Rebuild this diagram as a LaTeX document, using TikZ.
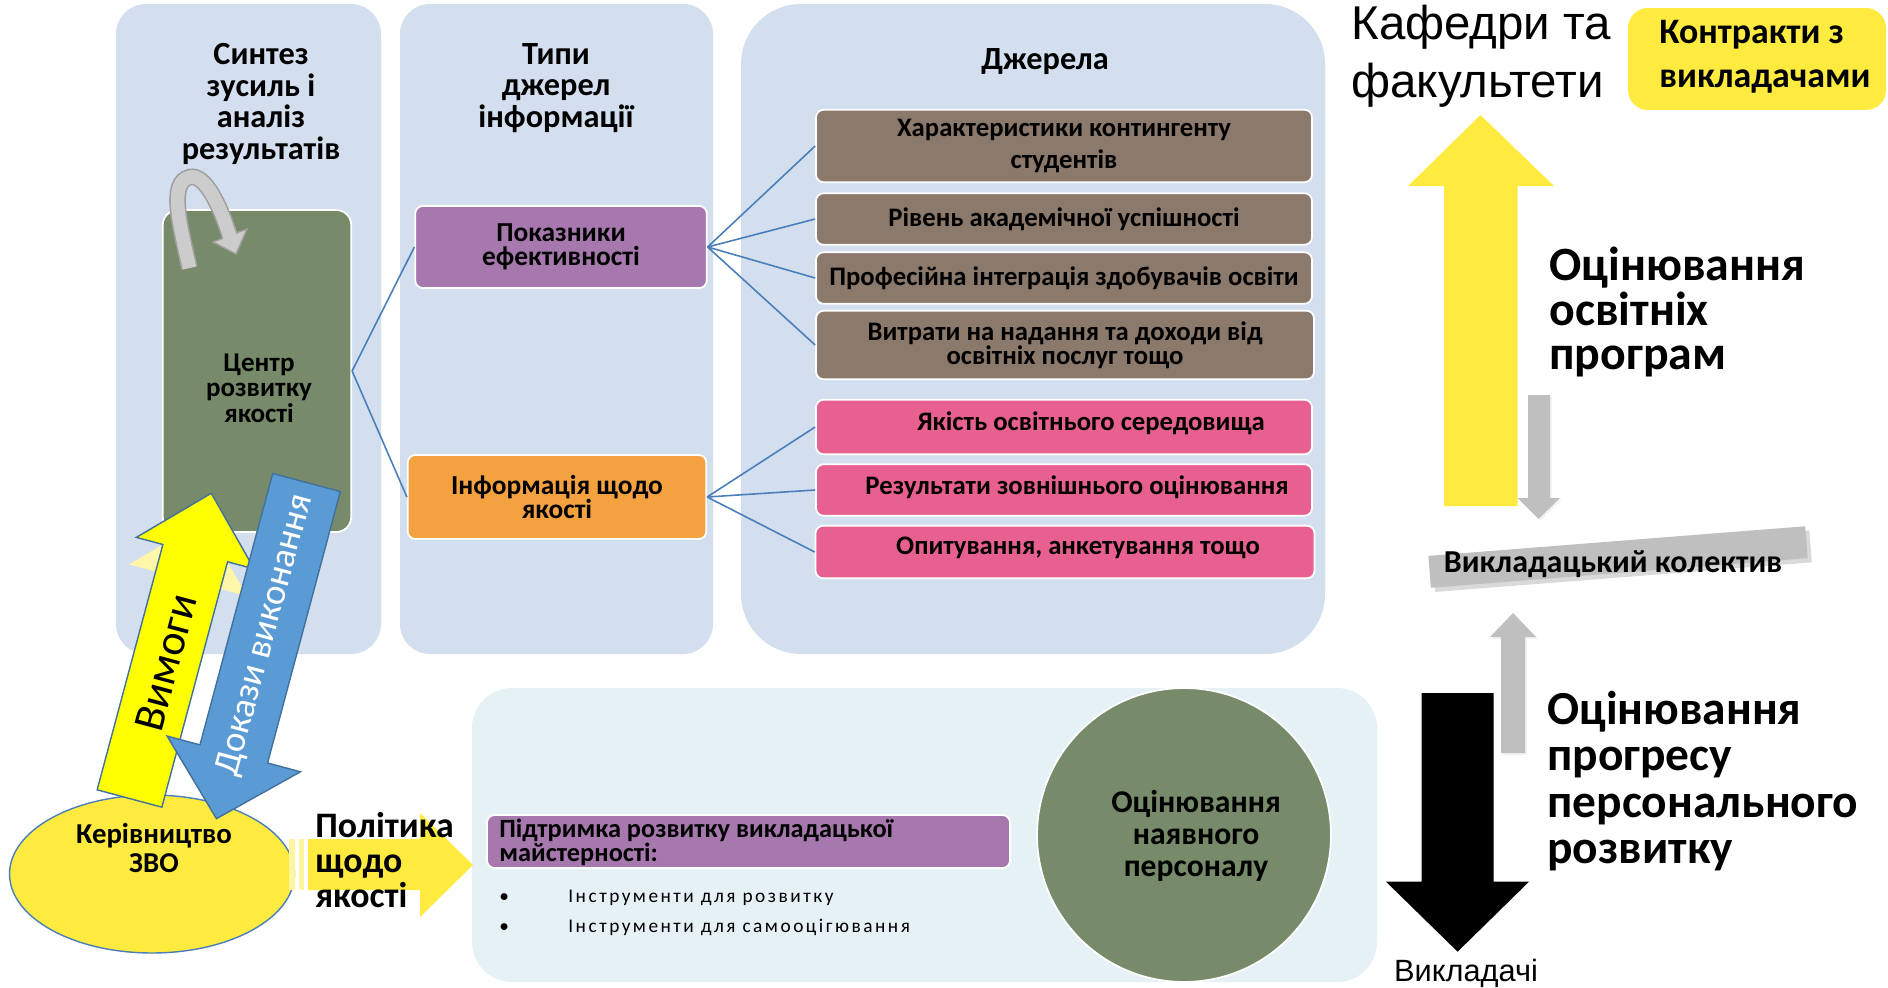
\documentclass[tikz,border=0pt]{standalone}
\usepackage{fontspec}
\setmainfont{Carlito}
\newfontfamily\arialfont{Liberation Sans}
\usetikzlibrary{positioning}
\usetikzlibrary{shapes.geometric}
\usetikzlibrary{shadows}
\definecolor{panelblue}{RGB}{211,223,239}
\definecolor{panelcyan}{RGB}{229,241,244}
\definecolor{olive}{RGB}{119,139,106}
\definecolor{violet}{RGB}{166,120,174}
\definecolor{orangebox}{RGB}{244,161,64}
\definecolor{brownbox}{RGB}{139,121,107}
\definecolor{pinkbox}{RGB}{232,96,143}
\definecolor{yel}{RGB}{255,235,64}
\definecolor{purey}{RGB}{255,255,0}
\definecolor{bluear}{RGB}{91,155,213}
\definecolor{blueedge}{RGB}{65,113,156}
\definecolor{linkblue}{RGB}{74,126,187}
\definecolor{greyar}{RGB}{191,191,191}
\tikzset{hdr/.style = {font = \bfseries\fontsize{18.4}{18}\selectfont, align = center}}
\tikzset{box/.style = {draw = white, line width = 1pt, rounded corners = 0.15cm, align = center,
                      font = \bfseries\fontsize{15.6}{13.8}\selectfont}}
\tikzset{srcbox/.style = {box, minimum width = 9.92cm, minimum height = 1.03cm,
                         font = \bfseries\fontsize{15.2}{13.8}\selectfont}}
\tikzset{celltxt/.style = {font = \bfseries\fontsize{15.2}{13.8}\selectfont}}
\tikzset{link/.style = {draw = linkblue, line width = 0.9pt}}
\tikzset{bigtxt/.style = {font = \bfseries\fontsize{27.2}{25.5}\selectfont, align = left, inner sep = 0, anchor = west}}
\tikzset{tool/.style = {font = \fontsize{11}{12}\selectfont\addfontfeature{LetterSpace=13}, inner sep = 0, anchor = base west}}

\begin{document}
\begin{tikzpicture}[x=0.02cm, y=-0.02cm]
      \useasboundingbox (0,0) rectangle (1888,987);

      % panels
      \fill[panelblue, rounded corners=0.6cm] (116,4) rectangle (381,654);
      \fill[panelblue, rounded corners=0.6cm] (400,4) rectangle (713,654);
      \fill[panelblue, rounded corners=1.2cm] (741,4) rectangle (1325,654);
      \fill[panelcyan, rounded corners=0.8cm] (472,688) rectangle (1377,982);

      \node[hdr] (synth) at (261,104) {Синтез\\зусиль і\\аналіз\\результатів};
      \node[hdr] (types) at (556,88) {Типи\\джерел\\інформації};
      \node[hdr] (srcs) at (1045,62) {Джерела};

      % centre
      \node[box, fill=olive, rounded corners=0.3cm, minimum width=3.77cm, minimum height=6.44cm] (centre) at (257,371) {};
      \node[font=\bfseries\fontsize{15.4}{14.5}\selectfont, align=center] (centretxt) at (259,388) {Центр\\розвитку\\якості};

      \draw[line width=9.5pt, gray!75] (189.5,268) .. controls (180,225) and (168,182) .. (190,177) .. controls (205,174) and (220,205) .. (230,237);
      \filldraw[fill=gray!40, draw=gray!75, line width=0.8pt] (213,242) -- (247,229) -- (236,254) -- cycle;
      \draw[line width=7.7pt, gray!40] (189.5,268) .. controls (180,225) and (168,182) .. (190,177) .. controls (205,174) and (220,205) .. (230,237);

      % types of sources
      \node[box, fill=violet, minimum width=5.83cm, minimum height=1.64cm] (kpi) at (561,247) {Показники\\ефективності};
      \node[box, fill=orangebox, minimum width=5.97cm, minimum height=1.68cm] (qinfo) at (557,497) {Інформація щодо\\якості};

      \node[srcbox, fill=brownbox, minimum height=1.45cm] (chars) at (1064,146) {Характеристики контингенту\\[4pt]студентів};
      \node[srcbox, fill=brownbox] (perf) at (1064,219) {Рівень академічної успішності};
      \node[srcbox, fill=brownbox] (integ) at (1064,278) {Професійна інтеграція здобувачів освіти};
      \node[srcbox, fill=brownbox, minimum width=9.96cm, minimum height=1.37cm] (costs) at (1065,345) {Витрати на надання та доходи від\\освітніх послуг тощо};
      \node[srcbox, fill=pinkbox, minimum height=1.09cm] (envq) at (1064,427) {};
      \node[celltxt] (envqtxt) at ([xshift=0.54cm, yshift=0.08cm]envq.center) {Якість освітнього середовища};
      \node[srcbox, fill=pinkbox] (extev) at (1064,490) {};
      \node[celltxt] (extevtxt) at ([xshift=0.26cm, yshift=0.06cm]extev.center) {Результати зовнішнього оцінювання};
      \node[srcbox, fill=pinkbox, minimum width=9.98cm, minimum height=1.05cm] (surv) at (1065,552) {};
      \node[celltxt] (survtxt) at ([xshift=0.26cm, yshift=0.08cm]surv.center) {Опитування, анкетування тощо};

      \draw[link] (centre.east) -- (kpi.west);
      \draw[link] (centre.east) -- (qinfo.west);
      \foreach \b in {chars, perf, integ, costs}
        \draw[link] (kpi.east) -- (\b.west);
      \foreach \b in {envq, extev, surv}
        \draw[link] (qinfo.east) -- (\b.west);

      % management
      \node[ellipse, draw=linkblue, fill=yel, line width=0.8pt, minimum width=5.7cm, minimum height=3.16cm] (mgmt) at (152,874) {};
      \node[font=\bfseries\fontsize{16.4}{16.4}\selectfont, align=center] (mgmttxt) at (154,848) {Керівництво\\ЗВО};

      \begin{scope}[shift={(129.5,798.5)}, rotate=-15]
        \fill[yel!45] (-61,-226) -- (0,-288) -- (61,-226) -- cycle;
        \filldraw[fill=purey, draw=blueedge, line width=0.8pt] (-33.5,0) -- (-33.5,-254) -- (-61,-254) -- (0,-316) -- (61,-254) -- (33.5,-254) -- (33.5,0) -- cycle;
        \node[rotate=75, font=\fontsize{25}{25}\selectfont] (req) at (0,-141) {Вимоги};
      \end{scope}
      \begin{scope}[shift={(306.5,482.5)}, rotate=-15]
        \filldraw[fill=bluear, draw=blueedge, line width=0.8pt] (-35,0) -- (-35,281) -- (-69,281) -- (0,348) -- (69,281) -- (35,281) -- (35,0) -- cycle;
        \node[rotate=75, text=white, font=\fontsize{21}{21}\selectfont] (proof) at (0,158) {Докази виконання};
      \end{scope}

      % policy arrow
      \fill[yel] (308,839) -- (420,839) -- (420,813) -- (473,865) -- (420,917) -- (420,890) -- (308,890) -- cycle;
      \fill[yel!50] (289,839) rectangle (295,890);
      \fill[yel!50] (299,839) rectangle (304,890);
      \node[font=\bfseries\fontsize{20.4}{20}\selectfont, align=left, inner sep=0, anchor=west] (policy) at (315,860) {Політика\\щодо\\якості};

      % staff assessment
      \node[circle, fill=olive, draw=white, line width=1pt, minimum size=5.88cm] (staffev) at (1184,835) {};
      \node[font=\bfseries\fontsize{18}{18.4}\selectfont, align=center] (staffevtxt) at (1196,836) {Оцінювання\\наявного\\персоналу};

      \node[box, fill=violet, minimum width=10.46cm, minimum height=1.06cm] (support) at (748.5,841.5) {};
      \node[font=\bfseries\fontsize{15}{13.5}\selectfont, align=left, inner sep=0, anchor=west] (supporttxt) at (499,842) {Підтримка розвитку викладацької\\майстерності:};
      \node[tool] (dot1) at (499,902) {•};
      \node[tool] (tool1) at (568,902) {Інструменти для розвитку};
      \node[tool] (dot2) at (499,932) {•};
      \node[tool] (tool2) at (568,932) {Інструменти для самооцігювання};

      % right side
      \node[font=\arialfont\fontsize{27}{33}\selectfont, align=left, inner sep=0, anchor=west] (depts) at (1351,56) {Кафедри та\\факультети};
      \node[fill=yel, rounded corners=0.4cm, minimum width=5.16cm, minimum height=2.04cm] (contr) at (1757,59) {};
      \node[font=\bfseries\fontsize{20.4}{25.3}\selectfont, align=left, inner sep=0, anchor=west] (contrtxt) at (1659,57) {Контракти з\\викладачами};

      \fill[yel] (1444,506) -- (1444,186) -- (1408,186) -- (1480.5,115) -- (1554,186) -- (1517.5,186) -- (1517.5,506) -- cycle;
      \node[bigtxt] (progev) at (1549,312) {Оцінювання\\освітніх\\програм};

      \fill[greyar, drop shadow={opacity=0.1, shadow xshift=1pt, shadow yshift=-1pt}] (1528,395) -- (1550,395) -- (1550,498) -- (1560,498) -- (1538.5,519) -- (1517.5,498) -- (1528,498) -- cycle;
      \node[fill=greyar, rotate=4.5, minimum width=7.56cm, minimum height=0.64cm, drop shadow={opacity=0.3}] (bar) at (1618,557) {};
      \node[font=\bfseries\fontsize{18.2}{18}\selectfont] (staff) at (1613,564) {Викладацький колектив};

      \fill[greyar, drop shadow={opacity=0.1, shadow xshift=1pt, shadow yshift=-1pt}] (1501,753) -- (1501,637) -- (1490,637) -- (1513,613) -- (1536,637) -- (1525,637) -- (1525,753) -- cycle;
      \fill[black] (1421.6,693) -- (1493.7,693) -- (1493.7,881.7) -- (1529,881.7) -- (1457.6,951.7) -- (1386,881.7) -- (1421.6,881.7) -- cycle;
      \node[font=\arialfont\fontsize{17.5}{17.5}\selectfont, anchor=base, inner sep=0] (teach) at (1466,981) {Викладачі};
      \node[font=\bfseries\fontsize{27}{26.3}\selectfont, align=left, inner sep=0, anchor=west] (persev) at (1547,781) {Оцінювання\\прогресу\\персонального\\розвитку};
\end{tikzpicture}
\end{document}
